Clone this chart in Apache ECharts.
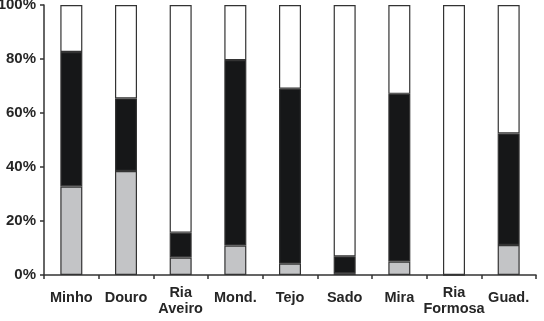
<!DOCTYPE html>
<html><head><meta charset="utf-8">
<script src="https://cdn.jsdelivr.net/npm/echarts@6/dist/echarts.min.js"></script>
<style>html,body{margin:0;padding:0;background:#fff}#c{width:544px;height:321px}</style>
</head><body><div id="c"></div>
<script>
const categories = ['Minho','Douro','Ria\nAveiro','Mond.','Tejo','Sado','Mira','Ria\nFormosa','Guad.'];
const greyValues  = [32.8, 38.5, 6.5, 10.9, 4.2, 0.7, 5.0, 0, 11.1];
const blackValues = [49.8, 26.9, 9.2, 68.7, 64.8, 6.2, 62.1, 0, 41.3];
const whiteValues = [17.4, 34.6, 84.3, 20.4, 31.0, 93.1, 32.9, 100, 47.6];
const yTicks = [0, 20, 40, 60, 80, 100];

const chart = echarts.init(document.getElementById('c'), null, {renderer:'canvas'});
const border = {borderColor:'#333', borderWidth:1.2};
const mk = (name, data, color) => ({
  name, type:'bar', stack:'s', data, barWidth:22,
  itemStyle:Object.assign({color}, border),
  emphasis:{disabled:true}
});
chart.setOption({
  animation:false,
  grid:{left:44, right:8, top:5, bottom:46, containLabel:false, outerBoundsMode:'none'},
  xAxis:{
    type:'category', data:categories,
    axisLine:{lineStyle:{color:'#333', width:1.5}},
    axisTick:{show:true, length:4, lineStyle:{color:'#333', width:1.5}},
    axisLabel:{color:'#262626', fontFamily:'Liberation Sans, Arial', fontWeight:'bold', fontSize:14.5, lineHeight:16,
      margin:23, verticalAlign:'middle', interval:0,
      formatter: v => v.includes('\n')
        ? '{s| }\n' + v.split('\n').map(p => '{t|' + p + '}').join('\n')
        : '{t|' + v + '}',
      rich:{
        s:{fontSize:1, lineHeight:6},
        t:{fontFamily:'Liberation Sans, Arial', fontWeight:'bold', fontSize:14.5, lineHeight:16, color:'#262626'}
      }
    }
  },
  yAxis:{
    type:'value', min:0, max:100, interval:20,
    axisLine:{show:true, lineStyle:{color:'#333', width:1.5}},
    axisTick:{show:true, length:4, lineStyle:{color:'#333', width:1.5}},
    splitLine:{show:false},
    axisLabel:{color:'#262626', fontFamily:'Liberation Sans, Arial', fontWeight:'bold', fontSize:15, margin:8,
      formatter: v => yTicks.includes(v) ? v + '%' : ''}
  },
  series:[
    mk('grey', greyValues, '#c3c4c6'),
    mk('black', blackValues, '#161718'),
    mk('white', whiteValues, '#ffffff')
  ]
});
</script></body></html>
